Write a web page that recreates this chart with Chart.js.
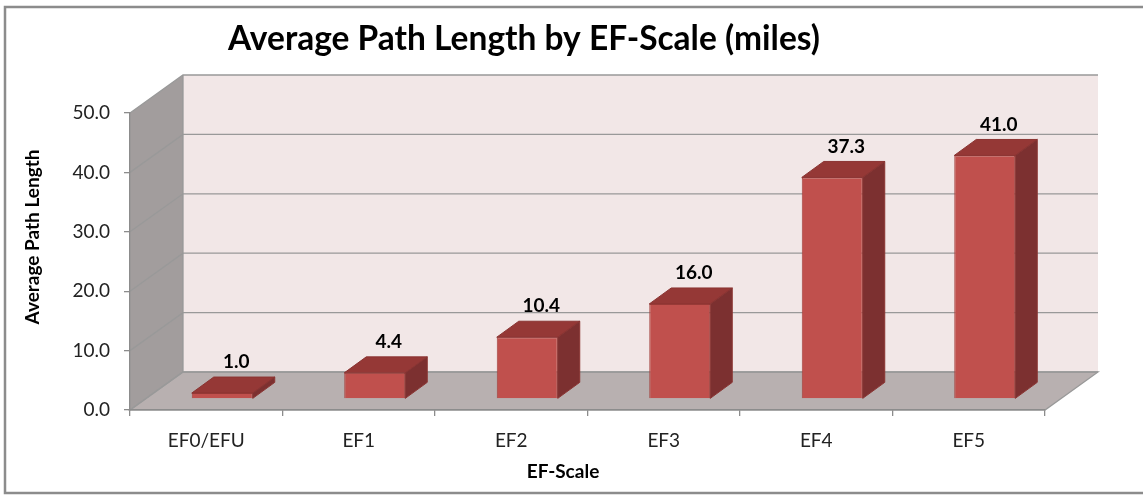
<!DOCTYPE html>
<html>
<head>
<meta charset="utf-8">
<script src="https://cdn.jsdelivr.net/npm/chart.js@4/dist/chart.umd.min.js"></script>
<style>
	html, body { margin: 0; padding: 0; background: #fff; }
	#wrap { width: 1143px; height: 496px; }
</style>
</head>
<body>
<div id="wrap"><canvas id="chart" width="1143" height="496"></canvas></div>
<script>
const categories	= ['EF0/EFU', 'EF1', 'EF2', 'EF3', 'EF4', 'EF5'];
const pathLength	= [1.0, 4.4, 10.4, 16.0, 37.3, 41.0];
const yTicks		= [0, 10, 20, 30, 40, 50];

const FONT = 'Lato, "Open Sans", sans-serif';

// oblique offsets of the 3d look
const WALL_DX = 53, WALL_DY = -38;	// depth of the floor / side wall
const BAR_DX = 16, BAR_DY = -11;	// bars sit a bit behind the front edge
const SIDE_DX = 22, SIDE_DY = -16;	// depth of a bar

const wallsPlugin = {
	id: 'walls3d',

	beforeDraw(chart) {
		let ctx = chart.ctx;
		let xs = chart.scales.x;
		let ys = chart.scales.y;
		let l = xs.left, r = xs.right;
		let top = ys.getPixelForValue(50), bot = ys.getPixelForValue(0);

		ctx.save();

		// outer frame
		ctx.strokeStyle = '#8c8c8c';
		ctx.lineWidth = 2.5;
		ctx.strokeRect(5, 7, 1150, 486);

		ctx.lineWidth = 1.3;
		ctx.strokeStyle = '#999';

		// back wall
		ctx.fillStyle = '#f2e7e7';
		ctx.fillRect(l + WALL_DX, top + WALL_DY, r - l, bot - top);

		// left wall
		ctx.fillStyle = '#a29d9d';
		ctx.beginPath();
		ctx.moveTo(l, bot);
		ctx.lineTo(l, top);
		ctx.lineTo(l + WALL_DX, top + WALL_DY);
		ctx.lineTo(l + WALL_DX, bot + WALL_DY);
		ctx.closePath();
		ctx.fill();

		// floor
		ctx.fillStyle = '#b8b0b0';
		ctx.beginPath();
		ctx.moveTo(l, bot);
		ctx.lineTo(r, bot);
		ctx.lineTo(r + WALL_DX, bot + WALL_DY);
		ctx.lineTo(l + WALL_DX, bot + WALL_DY);
		ctx.closePath();
		ctx.fill();
		ctx.stroke();

		// gridlines on back and side wall
		yTicks.forEach(function(v) {
			let py = ys.getPixelForValue(v);
			ctx.beginPath();
			ctx.moveTo(l, py);
			ctx.lineTo(l + WALL_DX, py + WALL_DY);
			ctx.lineTo(r + WALL_DX, py + WALL_DY);
			ctx.stroke();
		});

		ctx.beginPath();
		ctx.moveTo(l + WALL_DX, top + WALL_DY);
		ctx.lineTo(l + WALL_DX, bot + WALL_DY);
		ctx.stroke();

		// titles
		ctx.fillStyle = '#000';
		ctx.textAlign = 'center';
		ctx.textBaseline = 'middle';
		ctx.font = 'bold 33.5px ' + FONT;
		ctx.fillText('Average Path Length by EF-Scale (miles)', 524, 39);

		ctx.font = 'bold 19px ' + FONT;
		ctx.fillText('EF-Scale', 563, 472);

		ctx.translate(33, 237);
		ctx.rotate(-Math.PI / 2);
		ctx.fillText('Average Path Length', 0, 0);

		ctx.restore();
	},

	beforeDatasetsDraw(chart) {
		chart.ctx.save();
		chart.ctx.translate(BAR_DX, BAR_DY);
	},

	afterDatasetsDraw(chart) {
		let ctx = chart.ctx;
		let meta = chart.getDatasetMeta(0);

		meta.data.forEach(function(bar, i) {
			let p = bar.getProps(['x', 'y', 'base', 'width'], true);
			let x0 = p.x - p.width / 2, x1 = p.x + p.width / 2;

			ctx.lineWidth = 1;
			ctx.strokeStyle = '#8a3432';

			// top face
			ctx.fillStyle = '#953836';
			ctx.beginPath();
			ctx.moveTo(x0, p.y);
			ctx.lineTo(x0 + SIDE_DX, p.y + SIDE_DY);
			ctx.lineTo(x1 + SIDE_DX, p.y + SIDE_DY);
			ctx.lineTo(x1, p.y);
			ctx.closePath();
			ctx.fill();
			ctx.stroke();

			// side face
			ctx.fillStyle = '#7c3030';
			ctx.beginPath();
			ctx.moveTo(x1, p.y);
			ctx.lineTo(x1 + SIDE_DX, p.y + SIDE_DY);
			ctx.lineTo(x1 + SIDE_DX, p.base + SIDE_DY);
			ctx.lineTo(x1, p.base);
			ctx.closePath();
			ctx.fill();
			ctx.stroke();

			// value label
			ctx.fillStyle = '#000';
			ctx.font = 'bold 19px ' + FONT;
			ctx.textAlign = 'center';
			ctx.textBaseline = 'middle';
			ctx.fillText(pathLength[i].toFixed(1), p.x + 14, p.y - 31);
		});

		ctx.restore();
	}
};

new Chart(document.getElementById('chart'), {
	type: 'bar',
	data: {
		labels: categories,
		datasets: [{
			data: pathLength,
			backgroundColor: '#c0504d',
			borderColor: '#a3403d',
			borderWidth: 1,
			categoryPercentage: 1,
			barPercentage: 0.4
		}]
	},
	options: {
		responsive: false,
		animation: false,
		layout: {
			padding: { left: 0, top: 113, right: 98, bottom: 0 }
		},
		plugins: {
			legend: { display: false },
			title: { display: false },
			tooltip: { enabled: false }
		},
		scales: {
			x: {
				afterFit(scale) { scale.height = 86; },
				grid: {
					offset: true,
					drawOnChartArea: false,
					drawTicks: true,
					tickLength: 6,
					color: '#8c8c8c',
					lineWidth: 1.3
				},
				border: { display: true, color: '#8c8c8c', width: 1.3 },
				ticks: {
					color: '#222',
					padding: 13,
					font: { family: FONT, size: 19 }
				}
			},
			y: {
				min: 0,
				max: 50,
				afterFit(scale) { scale.width = 130; },
				afterBuildTicks(scale) {
					scale.ticks = yTicks.map(function(v) { return { value: v }; });
				},
				grid: {
					drawOnChartArea: false,
					drawTicks: true,
					tickLength: 6,
					color: '#8c8c8c',
					lineWidth: 1.3
				},
				border: { display: true, color: '#8c8c8c', width: 1.3 },
				ticks: {
					color: '#222',
					padding: 14,
					font: { family: FONT, size: 19 },
					callback: function(v) { return v.toFixed(1); }
				}
			}
		}
	},
	plugins: [wallsPlugin]
});
</script>
</body>
</html>
